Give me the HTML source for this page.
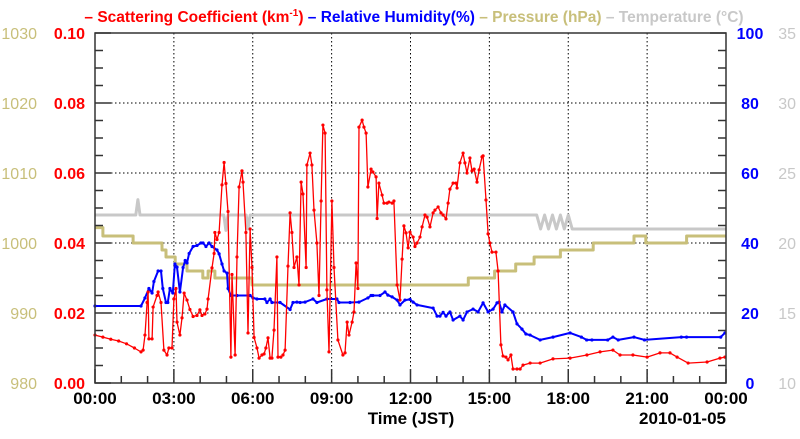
<!DOCTYPE html>
<html><head><meta charset="utf-8"><style>
body{margin:0;background:#fff;}
svg text{font-family:"Liberation Sans",Arial,sans-serif;}
</style></head><body>
<svg id="chart" width="800" height="434" xmlns="http://www.w3.org/2000/svg">
<text x="414" y="22" text-anchor="middle" font-size="15.5" font-weight="bold"><tspan fill="#ff0000">– Scattering Coefficient (km<tspan font-size="10" dy="-6">-1</tspan><tspan dy="6">) </tspan></tspan><tspan fill="#0000ff">– Relative Humidity(%) </tspan><tspan fill="#c8bf7a">– Pressure (hPa) </tspan><tspan fill="#c8c8c8">– Temperature (°C)</tspan></text>
<g id="grid"></g><g id="series"></g><g id="axes"></g>
</svg>
<script>
const scatT=[0,0.3,0.6,0.9,1.2,1.5,1.75,1.83,1.90,1.98,2.02,2.05,2.17,2.21,2.36,2.40,2.51,2.62,2.74,2.81,2.93,3.00,3.08,3.12,3.23,3.31,3.39,3.50,3.61,3.73,3.88,3.99,4.07,4.18,4.26,4.30,4.45,4.53,4.56,4.64,4.72,4.83,4.91,4.98,5.06,5.17,5.21,5.33,5.40,5.48,5.59,5.63,5.74,5.82,5.90,5.97,6.05,6.16,6.24,6.35,6.43,6.50,6.58,6.66,6.73,6.81,6.92,6.96,7.07,7.15,7.23,7.34,7.42,7.49,7.57,7.68,7.76,7.84,7.91,8.03,8.06,8.18,8.25,8.33,8.44,8.52,8.60,8.67,8.75,8.82,8.90,9.01,9.09,9.24,9.43,9.51,9.59,9.66,9.78,9.85,9.93,10.00,10.04,10.16,10.23,10.31,10.38,10.50,10.57,10.69,10.73,10.80,10.92,10.99,11.11,11.18,11.30,11.37,11.49,11.60,11.68,11.75,11.83,11.91,11.98,12.10,12.17,12.25,12.36,12.44,12.55,12.63,12.74,12.86,12.93,13.05,13.16,13.24,13.35,13.43,13.50,13.62,13.73,13.77,13.88,14.00,14.07,14.15,14.26,14.34,14.42,14.53,14.61,14.72,14.76,14.87,14.95,15.02,15.10,15.25,15.33,15.44,15.52,15.63,15.71,15.82,15.90,16.05,16.17,16.28,16.55,16.93,17.42,18.07,18.71,19.21,19.70,19.97,20.46,21.00,21.49,21.87,22.14,22.56,23.28,23.77,23.96];
const scatV=[0.0137,0.0131,0.0125,0.0120,0.0112,0.0100,0.0089,0.0094,0.0137,0.023,0.026,0.0126,0.0126,0.0217,0.025,0.026,0.023,0.0094,0.008,0.010,0.010,0.024,0.027,0.0174,0.0137,0.0186,0.0257,0.0237,0.021,0.019,0.0193,0.0209,0.0193,0.0197,0.0211,0.024,0.0329,0.037,0.043,0.041,0.043,0.0566,0.063,0.057,0.049,0.0074,0.031,0.008,0.036,0.056,0.0606,0.0574,0.043,0.0143,0.044,0.033,0.013,0.010,0.0071,0.008,0.0083,0.010,0.0129,0.0071,0.0071,0.0151,0.036,0.0074,0.0074,0.008,0.0094,0.0334,0.0486,0.043,0.033,0.036,0.028,0.0574,0.054,0.033,0.0623,0.0657,0.0623,0.0494,0.040,0.025,0.052,0.0737,0.0714,0.0266,0.0089,0.052,0.033,0.0123,0.008,0.0086,0.0174,0.0137,0.0174,0.0203,0.0343,0.027,0.0731,0.0751,0.0731,0.0714,0.056,0.0611,0.0603,0.0589,0.047,0.0571,0.0537,0.0514,0.0514,0.0517,0.0514,0.052,0.028,0.0237,0.0354,0.0449,0.0429,0.0386,0.0431,0.0417,0.039,0.040,0.0417,0.0446,0.048,0.0474,0.0446,0.0486,0.0494,0.0503,0.0486,0.048,0.0469,0.0514,0.0554,0.0571,0.0571,0.0557,0.0629,0.0657,0.0629,0.060,0.0643,0.0606,0.0611,0.0574,0.0609,0.0646,0.0649,0.0523,0.0426,0.040,0.0374,0.0374,0.032,0.0109,0.0077,0.0074,0.0066,0.008,0.004,0.004,0.004,0.0051,0.0057,0.0057,0.0069,0.0071,0.008,0.0089,0.0094,0.008,0.008,0.0074,0.0086,0.0086,0.0074,0.0057,0.006,0.0071,0.0074];
const rhT=[0,1.75,1.90,2.05,2.17,2.24,2.40,2.51,2.58,2.70,2.77,2.85,2.96,3.04,3.12,3.23,3.35,3.43,3.50,3.58,3.73,3.88,4.03,4.11,4.22,4.34,4.45,4.64,4.72,4.83,4.91,5.02,5.06,5.17,5.40,5.90,6.01,6.16,6.46,6.54,6.66,6.73,7.04,7.42,7.53,7.68,7.80,7.99,8.29,8.44,8.82,9.20,9.28,9.70,10.04,10.38,10.50,10.57,10.84,11.03,11.14,11.30,11.49,11.60,11.79,11.98,12.10,12.25,12.86,13.01,13.12,13.24,13.35,13.50,13.62,13.88,14.00,14.15,14.38,14.57,14.76,14.95,15.14,15.29,15.37,15.48,15.59,15.90,16.05,16.24,16.39,16.55,16.93,17.42,18.07,18.5,18.7,18.9,19.5,19.7,19.9,20.5,20.9,22.3,22.5,23.8,23.96];
const rhV=[22,22,24.3,27,25.7,29,32,32,27,23,23,27,25.7,34,33.1,26,33,35,34.3,37,39,39.3,40,40,39,40,39,38,36.9,34,32,31.4,27,25,25,25,24.3,24,24,23,24,23,23,21,23,23.1,23,23.1,24,23,24,24,23,23,23.1,24.3,25,25,25,26,25.1,24.6,23.7,22.3,23.7,23.9,23.1,22.3,21.4,19.1,19.1,20.2,19.1,20.3,18,19.1,18,20.3,21.1,20.3,22.9,20.3,21.1,22.9,23.1,20.3,22.3,20.3,16.9,15.4,14,13.7,12.3,13.1,14.3,13.1,12.3,12.3,12.3,13.1,12.3,13.1,12.3,13.1,13.1,13.1,14.3,14.3,13.1];
const presT=[0,0.3,0.3,1.45,1.45,2.55,2.55,2.7,2.7,3.05,3.05,3.5,3.5,4.1,4.1,4.3,4.3,4.56,4.56,5.97,5.97,14.2,14.2,15.2,15.2,16.0,16.0,16.7,16.7,17.7,17.7,18.95,18.95,20.5,20.5,20.95,20.95,22.5,22.5,24];
const presV=[1002.2,1002.2,1001,1001,1000,1000,999,999,998,998,997,997,996,996,995,995,996,996,995,995,994,994,995,995,996,996,997,997,998,998,999,999,1000,1000,1001,1001,1000,1000,1001,1001];
const tempT=[0,1.55,1.63,1.71,4.9,4.98,5.06,5.75,5.82,5.9,16.8,16.95,17.1,17.25,17.4,17.55,17.7,17.85,18.0,18.15,18.3,24];
const tempV=[22,22,23.1,22,22,20.9,22,22,21.0,22,22,21,22,21,22,21,22,21,22,21,21,21];

const L=95,R=726,T=33,B=383;
const xS=h=>L+(R-L)*h/24;
const yS=v=>B-(B-T)*v/0.1;
const yRH=v=>B-(B-T)*v/100;
const yP=v=>B-(B-T)*(v-980)/50;
const yTp=v=>B-(B-T)*(v-10)/25;
const NS="http://www.w3.org/2000/svg";
function mk(tag,attrs,parent){const e=document.createElementNS(NS,tag);for(const k in attrs)e.setAttribute(k,attrs[k]);parent.appendChild(e);return e;}
const grid=document.getElementById('grid'),ser=document.getElementById('series'),ax=document.getElementById('axes');
// grid
for(let h=3;h<24;h+=3){const g=mk('line',{x1:xS(h),x2:xS(h),y1:T,y2:B,stroke:'#000','stroke-width':1,'stroke-dasharray':'1.5,2.5'},grid);

}
for(let v=0.02;v<0.1;v+=0.02){const g=mk('line',{x1:L,x2:R,y1:yS(v),y2:yS(v),stroke:'#000','stroke-width':1,'stroke-dasharray':'1.5,2.5'},grid);

}
function line(ts,vs,yf,color,w,name,markers){
 const d=ts.map((t,i)=>(i?'L':'M')+xS(t).toFixed(1)+','+yf(vs[i]).toFixed(1)).join('');
 const p=mk('path',{d:d,fill:'none',stroke:color,'stroke-width':w,'stroke-linejoin':'round'},ser);
 
 
 if(markers){ts.forEach((t,i)=>{const c=mk('circle',{cx:xS(t),cy:yf(vs[i]),r:1.6,fill:color},ser);
 
 });}
}
line(tempT,tempV,yTp,'#c8c8c8',3,'temperature-line',false);
line(presT,presV,yP,'#c8bf7a',3,'pressure-line',false);
line(rhT,rhV,yRH,'#0000ff',2,'humidity-line',true);
line(scatT,scatV,yS,'#ff0000',1.3,'scattering-line',true);
// frame
const fr=mk('rect',{x:L,y:T,width:R-L,height:B-T,fill:'none',stroke:'#333','stroke-width':1.5},ax);


// y ticks
for(let i=0;i<=20;i++){const y=B-(B-T)*i/20;const len=i%4===0?16:8;
 mk('line',{x1:L,x2:L+len,y1:y,y2:y,stroke:'#333','stroke-width':1.5},ax);
 mk('line',{x1:R,x2:R-len,y1:y,y2:y,stroke:'#333','stroke-width':1.5},ax);}
// x ticks
for(let h=0;h<=24;h++){const x=xS(h);const len=h%3===0?14:7;mk('line',{x1:x,x2:x,y1:B,y2:B-len,stroke:'#333','stroke-width':1.5},ax);}
const xl=['00:00','03:00','06:00','09:00','12:00','15:00','18:00','21:00','00:00'];
xl.forEach((s,i)=>{const t=mk('text',{x:xS(i*3),y:B+21,'text-anchor':'middle','font-size':17,'font-weight':'bold',fill:'#000'},ax);t.textContent=s;

});
const sL=['0.00','0.02','0.04','0.06','0.08','0.10'],pL=['980','990','1000','1010','1020','1030'],hL=['0','20','40','60','80','100'],tL=['10','15','20','25','30','35'];
for(let i=0;i<6;i++){const y=B-(B-T)*i/5+6;
 let t=mk('text',{x:85,y:y,'text-anchor':'end','font-size':16,'font-weight':'bold',fill:'#ff0000'},ax);t.textContent=sL[i];
 
 
 t=mk('text',{x:37,y:y,'text-anchor':'end','font-size':16,fill:'#c8bf7a'},ax);t.textContent=pL[i];
 
 
 t=mk('text',{x:750,y:y,'text-anchor':'middle','font-size':16,'font-weight':'bold',fill:'#0000ff'},ax);t.textContent=hL[i];
 
 
 t=mk('text',{x:796,y:y,'text-anchor':'end','font-size':16,fill:'#c8c8c8'},ax);t.textContent=tL[i];
 
 }
let t=mk('text',{x:411,y:424,'text-anchor':'middle','font-size':17,'font-weight':'bold',fill:'#000'},ax);t.textContent='Time (JST)';


t=mk('text',{x:726,y:424,'text-anchor':'end','font-size':17,'font-weight':'bold',fill:'#000'},ax);t.textContent='2010-01-05';


</script>
</body></html>
